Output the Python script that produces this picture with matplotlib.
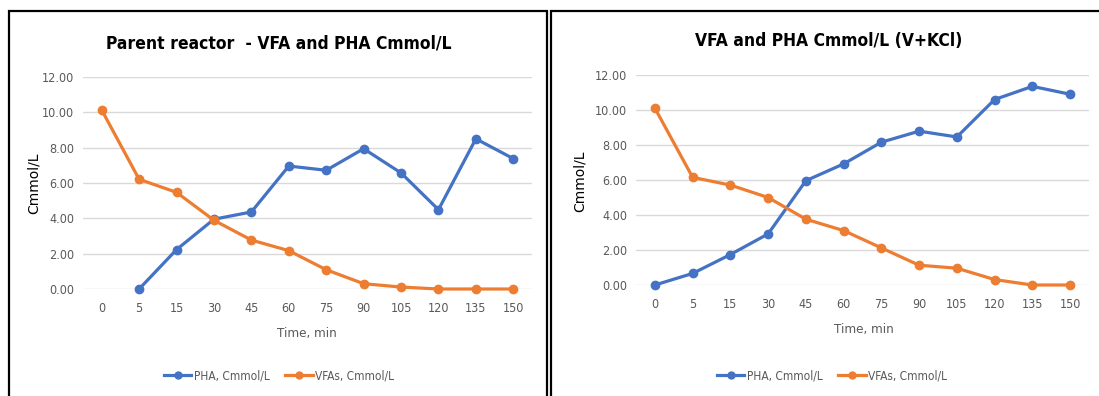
import numpy as np
import matplotlib
matplotlib.use("Agg")
import matplotlib.pyplot as plt
from matplotlib.patches import Rectangle
from matplotlib.lines import Line2D

times = ["0", "5", "15", "30", "45", "60", "75", "90", "105", "120", "135", "150"]

pha_parent = [np.nan, 0.00, 2.23, 3.95, 4.36, 6.96, 6.72, 7.94, 6.57, 4.49, 8.50, 7.38]
vfa_parent = [10.13, 6.21, 5.47, 3.89, 2.77, 2.17, 1.09, 0.30, 0.11, 0.00, 0.00, 0.00]

pha_kcl = [0.00, 0.66, 1.74, 2.92, 5.96, 6.92, 8.16, 8.79, 8.46, 10.60, 11.35, 10.90]
vfa_kcl = [10.11, 6.15, 5.71, 5.00, 3.76, 3.11, 2.12, 1.13, 0.96, 0.31, 0.00, 0.00]

titles = ["Parent reactor  - VFA and PHA Cmmol/L", "VFA and PHA Cmmol/L (V+KCl)"]
series_names = ["PHA, Cmmol/L", "VFAs, Cmmol/L"]
yticks = [0, 2, 4, 6, 8, 10, 12]

BLUE = "#4472C4"
ORANGE = "#ED7D31"
GRAY = "#595959"
FONT = dict(family="DejaVu Sans", stretch="condensed")

W, H = 1099, 396
fig = plt.figure(figsize=(W / 100, H / 100), dpi=100)

def fx(px):
    return px / W

def fy(py):
    return 1 - py / H

# panel borders
fig.patches.append(Rectangle((fx(9), fy(420)), fx(538), fy(11) - fy(420),
                             transform=fig.transFigure, fill=False,
                             edgecolor="black", linewidth=1.6))
fig.patches.append(Rectangle((fx(551), fy(420)), fx(600), fy(11) - fy(420),
                             transform=fig.transFigure, fill=False,
                             edgecolor="black", linewidth=1.6))

panels = [
    dict(ax=(83, 77, 532, 289), pha=pha_parent, vfa=vfa_parent, title=titles[0],
         title_xy=(279, 43), ylab_xy=(34, 183), xlab_xy=(307, 333), leg_xy=(279, 376)),
    dict(ax=(636, 75, 1089, 285), pha=pha_kcl, vfa=vfa_kcl, title=titles[1],
         title_xy=(829, 41), ylab_xy=(580, 181), xlab_xy=(864, 330), leg_xy=(832, 376)),
]

x = np.arange(len(times))
for p in panels:
    x0, y0, x1, y1 = p["ax"]
    ax = fig.add_axes([fx(x0), fy(y1), fx(x1) - fx(x0), fy(y0) - fy(y1)])
    ax.plot(x, p["pha"], color=BLUE, lw=2.3, marker="o", ms=6, zorder=3, clip_on=False)
    ax.plot(x, p["vfa"], color=ORANGE, lw=2.3, marker="o", ms=6, zorder=3, clip_on=False)
    ax.set_xlim(-0.5, len(times) - 0.5)
    ax.set_ylim(0, 12)
    ax.set_yticks(yticks)
    ax.set_yticklabels([f"{v:.2f}" for v in yticks])
    ax.set_xticks(x)
    ax.set_xticklabels(times)
    for s in ax.spines.values():
        s.set_visible(False)
    ax.grid(axis="y", color="#D9D9D9", lw=1)
    ax.set_axisbelow(True)
    ax.tick_params(axis="y", length=0, labelsize=9, labelcolor=GRAY, pad=6.5)
    ax.tick_params(axis="x", length=0, labelsize=9, labelcolor=GRAY, pad=9)
    for lab in ax.get_xticklabels() + ax.get_yticklabels():
        lab.set_family(FONT["family"])
        lab.set_stretch(FONT["stretch"])
    ax.patch.set_alpha(0)

    fig.text(fx(p["title_xy"][0]), fy(p["title_xy"][1]), p["title"], ha="center",
             va="center", fontsize=12.5, fontweight="bold", color="black", **FONT)
    fig.text(fx(p["ylab_xy"][0]), fy(p["ylab_xy"][1]), "Cmmol/L", rotation=90,
             ha="center", va="center", fontsize=10, color="black", family="DejaVu Sans")
    fig.text(fx(p["xlab_xy"][0]), fy(p["xlab_xy"][1]), "Time, min", ha="center",
             va="center", fontsize=9.5, color=GRAY, **FONT)

    handles = [Line2D([], [], color=BLUE, lw=2.3, marker="o", ms=5),
               Line2D([], [], color=ORANGE, lw=2.3, marker="o", ms=5)]
    fig.legend(handles, series_names, loc="center",
               bbox_to_anchor=(fx(p["leg_xy"][0]), fy(p["leg_xy"][1])),
               ncol=2, frameon=False, handlelength=2.3, handletextpad=0.2,
               columnspacing=1.3, prop=dict(size=8.6, **FONT),
               labelcolor=GRAY)

fig.savefig("out.png", dpi=100)
